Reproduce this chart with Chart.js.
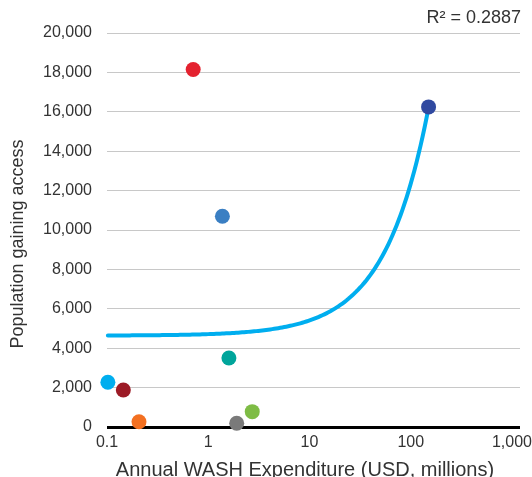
<!DOCTYPE html>
<html>
<head>
<meta charset="utf-8">
<script src="https://cdn.jsdelivr.net/npm/chart.js@4/dist/chart.umd.min.js"></script>
<style>
  html, body { margin: 0; padding: 0; background: #ffffff; }
  #wrap { width: 532px; height: 477px; position: relative; }
</style>
</head>
<body>
<div id="wrap"><canvas id="c" width="532" height="477"></canvas></div>
<script>
// Annual WASH expenditure (USD, millions) and population gaining access, one entry per programme
const expenditure    = [0.71, 1.38, 150, 1.60, 0.102, 0.145, 0.207, 1.91, 2.72];
const populationGain = [18150, 10700, 16250, 3500, 2270, 1880, 270, 190, 780];
const pointColors    = ['#E4222F', '#3A7FC3', '#3049A0', '#00A59B', '#00AEEF',
                        '#9C1B26', '#F37021', '#7A7A7A', '#7EBC45'];

const xTickValues = [0.1, 1, 10, 100, 1000];
const yTickStep   = 2000;
const yMax        = 20000;
const rSquaredLabel = 'R\u00B2 = 0.2887';
const xAxisTitle  = 'Annual WASH Expenditure (USD, millions)';
const yAxisTitle  = 'Population gaining access';

const FONT = "'Liberation Sans', Arial, sans-serif";
const TEXT = '#333333';

// Ordinary least-squares linear trend of population on expenditure
function linearFit(xs, ys) {
  const n = xs.length;
  const mx = xs.reduce((s, v) => s + v, 0) / n;
  const my = ys.reduce((s, v) => s + v, 0) / n;
  let sxy = 0, sxx = 0;
  for (let i = 0; i < n; i++) {
    sxy += (xs[i] - mx) * (ys[i] - my);
    sxx += (xs[i] - mx) * (xs[i] - mx);
  }
  const slope = sxy / sxx;
  return { slope, intercept: my - slope * mx };
}
const fit = linearFit(expenditure, populationGain);

// Trend drawn across the data range; sampled on a log spacing so it bends smoothly on the log axis
const xLo = Math.min(...expenditure), xHi = Math.max(...expenditure);
const trendPoints = [];
for (let i = 0; i <= 160; i++) {
  const x = Math.pow(10, Math.log10(xLo) + (Math.log10(xHi) - Math.log10(xLo)) * i / 160);
  trendPoints.push({ x, y: fit.intercept + fit.slope * x });
}

const scatterPoints = expenditure.map((x, i) => ({ x, y: populationGain[i] }));

// Goodness-of-fit note in the top-right corner and both axis titles
const annotationsPlugin = {
  id: 'annotations',
  afterDraw(chart) {
    const ctx = chart.ctx;
    ctx.save();
    ctx.fillStyle = TEXT;
    ctx.textBaseline = 'middle';

    ctx.font = '18px ' + FONT;
    ctx.textAlign = 'right';
    ctx.fillText(rSquaredLabel, 521, 18);

    ctx.font = '20px ' + FONT;
    ctx.textAlign = 'center';
    ctx.fillText(xAxisTitle, 305, 470);

    ctx.font = '18px ' + FONT;
    ctx.translate(18, 244);
    ctx.rotate(-Math.PI / 2);
    ctx.fillText(yAxisTitle, 0, 0);
    ctx.restore();
  }
};

new Chart(document.getElementById('c'), {
  type: 'scatter',
  data: {
    datasets: [
      {
        label: 'Programmes',
        data: scatterPoints,
        pointBackgroundColor: pointColors,
        pointBorderWidth: 0,
        pointRadius: 7.5,
        pointHoverRadius: 7.5,
        clip: false,
        order: 0
      },
      {
        type: 'line',
        label: 'Linear trend',
        data: trendPoints,
        borderColor: '#00AEEF',
        borderWidth: 4,
        pointRadius: 0,
        tension: 0,
        fill: false,
        borderCapStyle: 'round',
        clip: false,
        order: 1
      }
    ]
  },
  options: {
    responsive: false,
    animation: false,
    layout: { padding: { top: 33, right: 12, left: 0, bottom: 0 } },
    plugins: {
      legend: { display: false },
      tooltip: { enabled: false }
    },
    scales: {
      x: {
        type: 'logarithmic',
        min: 0.1,
        max: 1200,
        afterBuildTicks(scale) {
          scale.ticks = xTickValues.map(v => ({ value: v }));
        },
        afterFit(scale) {
          scale.height = 50;
          scale.paddingLeft = 0;
          scale.paddingRight = 0;
        },
        grid: { display: false, drawTicks: false },
        border: { display: false },
        ticks: {
          padding: 6,
          color: TEXT,
          font: { family: FONT, size: 16 },
          maxRotation: 0,
          autoSkip: false,
          callback: v => Number(v).toLocaleString('en-US')
        },
        title: { display: false }
      },
      y: {
        min: 0,
        max: yMax,
        afterFit(scale) { scale.width = 107; },
        ticks: {
          stepSize: yTickStep,
          padding: 15,
          color: TEXT,
          font: { family: FONT, size: 16 },
          callback: v => Number(v).toLocaleString('en-US')
        },
        grid: {
          drawTicks: false,
          color: ctx => (ctx.tick && ctx.tick.value === 0) ? '#000000' : '#C8C8C8',
          lineWidth: ctx => (ctx.tick && ctx.tick.value === 0) ? 3 : 1
        },
        border: { display: false },
        title: { display: false }
      }
    }
  },
  plugins: [annotationsPlugin]
});
</script>
</body>
</html>
